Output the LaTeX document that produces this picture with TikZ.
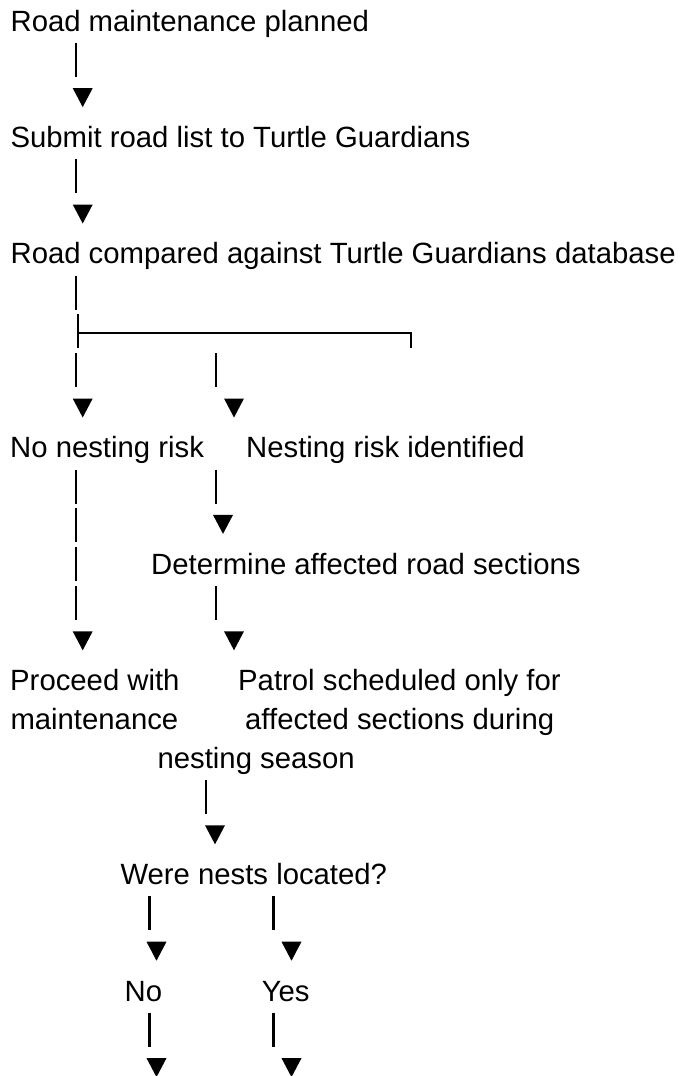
\documentclass[tikz,border=0pt]{standalone}
\usepackage{fontspec}
\setmainfont{Liberation Sans}
\begin{document}
\begin{tikzpicture}[x=1pt,y=-1pt,
  txt/.style={anchor=base west,inner sep=0pt,font=\fontsize{29.3}{35}\selectfont},
  stemline/.style={line width=2.2pt,black},
  tri/.pic={\fill[black] (-10,-20.5) -- (10,-20.5) -- (0,-1.5) -- cycle;},
  stm/.pic={\draw[stemline] (0,-27) -- (0,7);}
]
\useasboundingbox (0,0) rectangle (681,1076);
% texts
\node[txt] (t0) at (10.4,31) {Road maintenance planned};
\node[txt] (t1) at (10.4,147.4) {Submit road list to Turtle Guardians};
\node[txt] (t2) at (10.4,263.8) {Road compared against Turtle Guardians database};
\node[txt] (nr) at (10,457.8) {No nesting risk};
\node[txt] (ri) at (246,457.8) {Nesting risk identified};
\node[txt] (da) at (151,574.2) {Determine affected road sections};
\node[txt] (pm1) at (10,690.6) {Proceed with};
\node[txt] (pm2) at (10.3,729.4) {maintenance};
\node[txt] (ps1) at (238,690.6) {Patrol scheduled only for};
\node[txt] (ps2) at (245,729.4) {affected sections during};
\node[txt] (ps3) at (157.4,768.2) {nesting season};
\node[txt] (wn) at (120.3,884.6) {Were nests located?};
\node[txt] (no) at (124.5,1001) {No};
\node[txt] (yes) at (261.6,1001) {Yes};
% column A
\pic at (76,69.8) {stm};
\pic at (82.7,108.6) {tri};
\pic at (76,186.2) {stm};
\pic at (82.7,225) {tri};
\pic at (76,302.6) {stm};
% branch
\coordinate (ba) at (78.3,332.7);
\coordinate (bb) at (410.7,332.7);
\draw[stemline] (78.3,314.4) -- (78.3,348.4);
\draw[stemline] (ba) -- (bb) -- (410.7,348.4);
\pic at (76,380.2) {stm};
\pic at (216,380.2) {stm};
\pic at (82.7,419) {tri};
\pic at (234,419) {tri};
% below nesting rows
\pic at (76,496.6) {stm};
\pic at (216,496.6) {stm};
\pic at (76,535.4) {stm};
\pic at (223,535.4) {tri};
\pic at (76,574.2) {stm};
\pic at (76,613) {stm};
\pic at (216,613) {stm};
\pic at (82.7,651.8) {tri};
\pic at (234,651.8) {tri};
% patrol -> question
\pic at (206,807) {stm};
\pic at (215,845.8) {tri};
% yes / no
\pic at (149.5,923.4) {stm};
\pic at (273.5,923.4) {stm};
\pic at (156.5,962.2) {tri};
\pic at (291.5,962.2) {tri};
\pic at (149.5,1039.8) {stm};
\pic at (273.5,1039.8) {stm};
\pic at (156.5,1078.6) {tri};
\pic at (291.5,1078.6) {tri};
\end{tikzpicture}
\end{document}
